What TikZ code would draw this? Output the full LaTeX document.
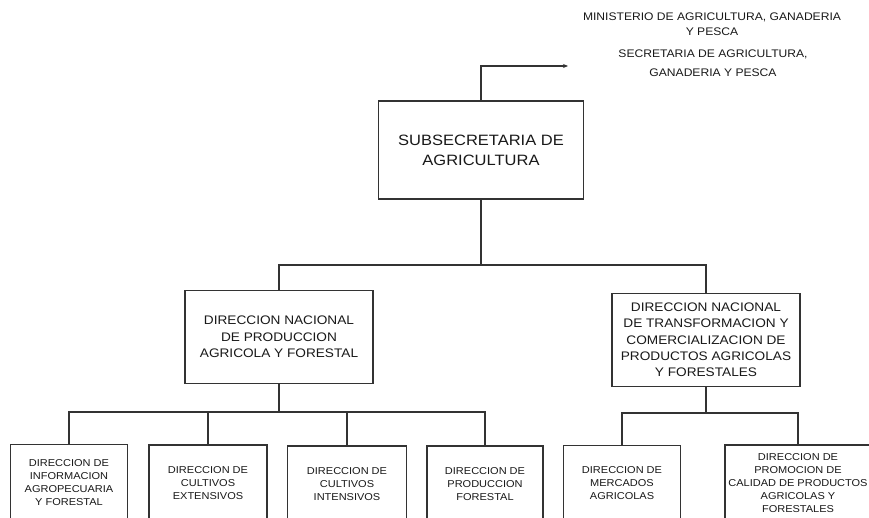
\documentclass[tikz,border=0pt]{standalone}
\usepackage{fontspec}
\setmainfont[FakeStretch=1.1]{Liberation Sans}
\usetikzlibrary{arrows.meta}
\begin{document}
\begin{tikzpicture}[x=1pt,y=-1pt,
  ln/.style={line width=1.6pt, draw=black!80},
  box/.style={draw=black!80, line width=1.5pt, inner sep=0pt, align=center, text=black!90},
  topbox/.style={box, minimum width=205pt, minimum height=98pt, font=\fontsize{15}{20}\selectfont},
  midbox/.style={box, minimum width=188pt, minimum height=93pt, font=\fontsize{12.4}{16.3}\selectfont},
  lowbox/.style={box, anchor=north, minimum height=76pt, font=\fontsize{10}{13}\selectfont},
  note/.style={align=center, inner sep=0pt, text=black!90}
]
\useasboundingbox (0,0) rectangle (869,518);
\clip (0,0) rectangle (869,518);
\fill[white] (0,0) rectangle (869,518);

% header texts
\node[note, font=\fontsize{11}{15}\selectfont] (min) at (712,24.5) {MINISTERIO DE AGRICULTURA, GANADERIA\\Y PESCA};
\node[note, font=\fontsize{11}{19}\selectfont] (sec) at (713,63) {SECRETARIA DE AGRICULTURA,\\GANADERIA Y PESCA};

% main boxes
\node[topbox] (sub) at (481,150) {SUBSECRETARIA DE\\AGRICULTURA};
\node[midbox] (dn1) at (279,337) {DIRECCION NACIONAL\\DE PRODUCCION\\AGRICOLA Y FORESTAL};
\node[midbox] (dn2) at (706,340) {DIRECCION NACIONAL\\DE TRANSFORMACION Y\\COMERCIALIZACION DE\\PRODUCTOS AGRICOLAS\\Y FORESTALES};

% lower boxes
\node[lowbox, minimum width=117pt] (b1) at (69,443.5) {DIRECCION DE\\INFORMACION\\AGROPECUARIA\\Y FORESTAL};
\node[lowbox, minimum width=118pt] (b2) at (208,444) {DIRECCION DE\\CULTIVOS\\EXTENSIVOS};
\node[lowbox, minimum width=119pt] (b3) at (347,445) {DIRECCION DE\\CULTIVOS\\INTENSIVOS};
\node[lowbox, minimum width=116pt] (b4) at (485,445) {DIRECCION DE\\PRODUCCION\\FORESTAL};
\node[lowbox, minimum width=117pt] (b5) at (622,444.5) {DIRECCION DE\\MERCADOS\\AGRICOLAS};
\node[lowbox, minimum width=146pt] (b6) at (798,444) {DIRECCION DE\\PROMOCION DE\\CALIDAD DE PRODUCTOS\\AGRICOLAS Y\\FORESTALES};

% connectors
\coordinate (arr) at (568,66);
\draw[ln, -{Stealth[length=5pt,width=4pt]}] (sub.north) |- (arr);

\coordinate (busA) at (481,265);
\draw[ln] (sub.south) -- (busA);
\draw[ln] (busA) -| (dn1.north);
\draw[ln] (busA) -| (dn2.north);

\coordinate (busB) at (279,412);
\draw[ln] (dn1.south) -- (busB);
\draw[ln] (busB) -| (b1.north);
\draw[ln] (busB) -| (b2.north);
\draw[ln] (busB) -| (b3.north);
\draw[ln] (busB) -| (b4.north);

\coordinate (busC) at (706,413);
\draw[ln] (dn2.south) -- (busC);
\draw[ln] (busC) -| (b5.north);
\draw[ln] (busC) -| (b6.north);
\end{tikzpicture}
\end{document}
